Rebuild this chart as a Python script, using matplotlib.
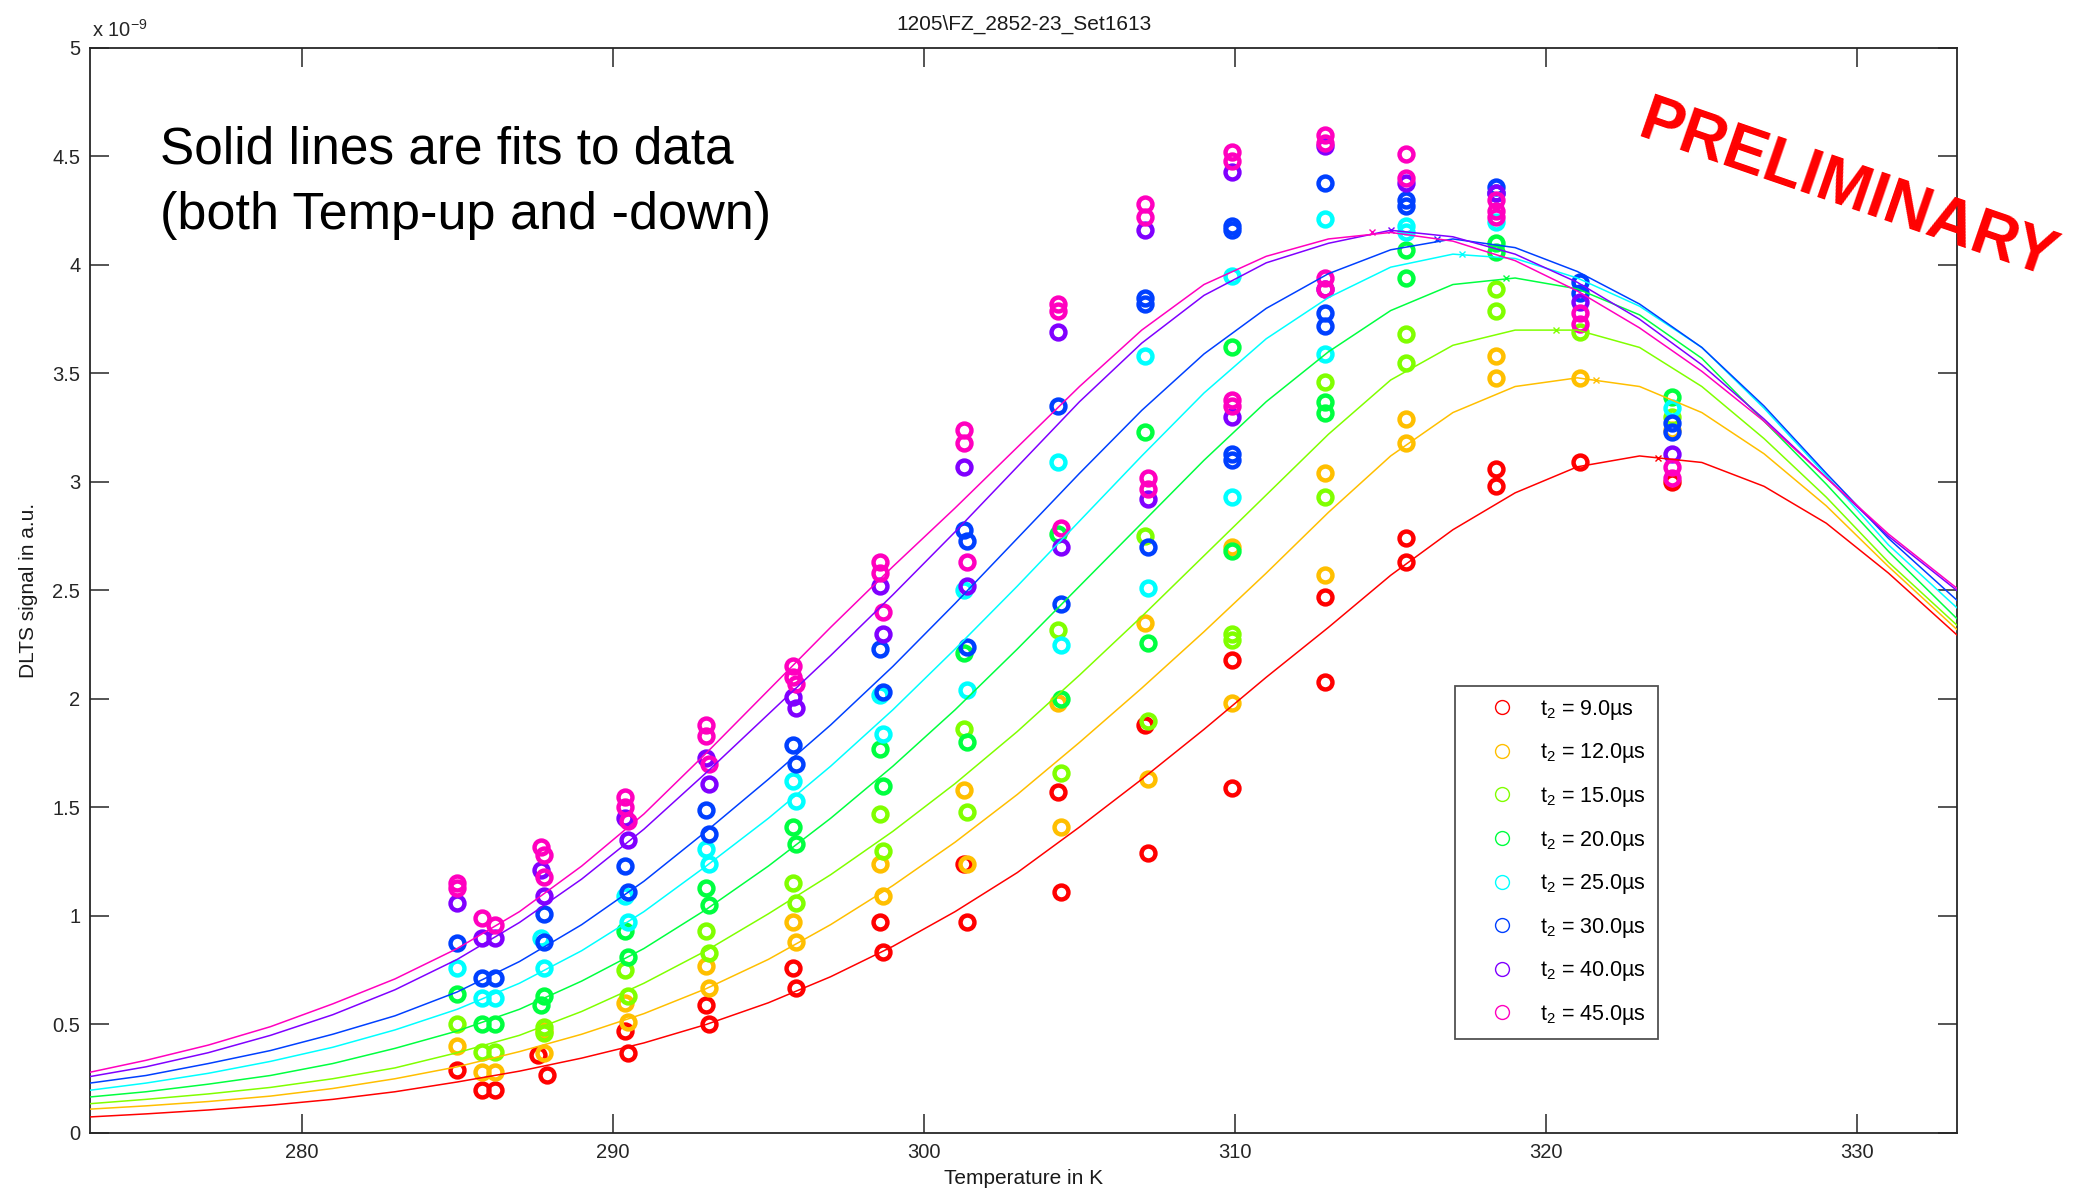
import colorsys
import numpy as np
import matplotlib
matplotlib.use('Agg')
import matplotlib.pyplot as plt
from matplotlib.lines import Line2D
from matplotlib.ticker import FuncFormatter

plt.rcParams['font.family'] = ['Liberation Sans', 'DejaVu Sans']
plt.rcParams['mathtext.fontset'] = 'custom'
plt.rcParams['mathtext.rm'] = 'Liberation Sans'

# rate windows (t2 in microseconds)
t2_us = [9.0, 12.0, 15.0, 20.0, 25.0, 30.0, 40.0, 45.0]

# measured DLTS signal in units of 1e-9, (temperature K, signal) per rate window
meas_9 = [(285.0, 0.29), (285.8, 0.20), (286.2, 0.20), (287.6, 0.36), (287.9, 0.265),
          (290.4, 0.47), (290.5, 0.37), (293.0, 0.59), (293.1, 0.50), (295.8, 0.76),
          (295.9, 0.67), (298.6, 0.97), (298.7, 0.835), (301.3, 1.24), (301.4, 0.97),
          (304.3, 1.57), (304.4, 1.11), (307.1, 1.88), (307.2, 1.29), (309.9, 2.18),
          (309.9, 1.59), (312.9, 2.47), (312.9, 2.08), (315.5, 2.74), (315.5, 2.63),
          (318.4, 3.06), (318.4, 2.98), (321.1, 3.09), (324.05, 3.00)]
meas_12 = [(285.0, 0.40), (285.8, 0.28), (286.2, 0.28), (287.8, 0.47), (287.8, 0.37),
           (290.4, 0.60), (290.5, 0.51), (293.0, 0.77), (293.1, 0.67), (295.8, 0.97),
           (295.9, 0.88), (298.6, 1.24), (298.7, 1.09), (301.3, 1.58), (301.4, 1.24),
           (304.3, 1.98), (304.4, 1.41), (307.1, 2.35), (307.2, 1.63), (309.9, 2.70),
           (309.9, 1.98), (312.9, 3.04), (312.9, 2.57), (315.5, 3.29), (315.5, 3.18),
           (318.4, 3.58), (318.4, 3.48), (321.1, 3.48), (324.05, 3.24)]
meas_15 = [(285.0, 0.50), (285.8, 0.375), (286.2, 0.375), (287.8, 0.49), (287.8, 0.46),
           (290.4, 0.75), (290.5, 0.63), (293.0, 0.93), (293.1, 0.83), (295.8, 1.15),
           (295.9, 1.06), (298.6, 1.47), (298.7, 1.30), (301.3, 1.86), (301.4, 1.48),
           (304.3, 2.32), (304.4, 1.66), (307.1, 2.75), (307.2, 1.90), (309.9, 2.30),
           (309.9, 2.27), (312.9, 3.46), (312.9, 2.93), (315.5, 3.68), (315.5, 3.55),
           (318.4, 3.89), (318.4, 3.79), (321.1, 3.69), (324.05, 3.30)]
meas_20 = [(285.0, 0.64), (285.8, 0.50), (286.2, 0.50), (287.8, 0.63), (287.7, 0.59),
           (290.4, 0.93), (290.5, 0.81), (293.0, 1.13), (293.1, 1.05), (295.8, 1.41),
           (295.9, 1.33), (298.6, 1.77), (298.7, 1.60), (301.3, 2.21), (301.4, 1.80),
           (304.3, 2.76), (304.4, 2.00), (307.1, 3.23), (307.2, 2.26), (309.9, 3.62),
           (309.9, 2.68), (312.9, 3.37), (312.9, 3.32), (315.5, 4.07), (315.5, 3.94),
           (318.4, 4.10), (318.4, 4.06), (324.05, 3.39)]
meas_25 = [(285.0, 0.76), (285.8, 0.62), (286.2, 0.62), (287.7, 0.90), (287.8, 0.76),
           (290.4, 1.09), (290.5, 0.97), (293.0, 1.31), (293.1, 1.24), (295.8, 1.62),
           (295.9, 1.53), (298.6, 2.02), (298.7, 1.84), (301.3, 2.50), (301.4, 2.04),
           (304.3, 3.09), (304.4, 2.25), (307.1, 3.58), (307.2, 2.51), (309.9, 3.95),
           (309.9, 2.93), (312.9, 4.21), (312.9, 3.59), (315.5, 4.18), (315.5, 4.15),
           (318.4, 4.20), (324.05, 3.34)]
meas_30 = [(285.0, 0.875), (285.8, 0.715), (286.2, 0.715), (287.8, 1.01), (287.8, 0.88),
           (290.4, 1.23), (290.5, 1.11), (293.0, 1.49), (293.1, 1.38), (295.8, 1.79),
           (295.9, 1.70), (298.6, 2.23), (298.7, 2.03), (301.3, 2.78), (301.4, 2.73),
           (301.4, 2.24), (304.3, 3.35), (304.4, 2.44), (307.1, 3.85), (307.1, 3.82),
           (307.2, 2.70), (309.9, 4.18), (309.9, 4.16), (309.9, 3.13), (309.9, 3.10),
           (312.9, 4.38), (312.9, 3.78), (312.9, 3.72), (315.5, 4.30), (315.5, 4.27),
           (318.4, 4.36), (318.4, 4.33), (321.1, 3.92), (321.1, 3.87), (324.05, 3.27),
           (324.05, 3.23)]
meas_40 = [(285.0, 1.06), (285.8, 0.90), (286.2, 0.90), (287.7, 1.21), (287.8, 1.09),
           (290.4, 1.45), (290.5, 1.35), (293.0, 1.73), (293.1, 1.61), (295.8, 2.01),
           (295.9, 1.96), (298.6, 2.52), (298.7, 2.30), (301.3, 3.07), (301.4, 2.52),
           (304.3, 3.69), (304.4, 2.70), (307.1, 4.16), (307.2, 2.92), (309.9, 4.43),
           (309.9, 3.30), (312.9, 4.55), (312.9, 3.89), (315.5, 4.38), (318.4, 4.33),
           (321.1, 3.83), (324.05, 3.13)]
meas_45 = [(285.0, 1.15), (285.0, 1.13), (285.8, 0.99), (286.2, 0.96), (287.7, 1.32),
           (287.8, 1.28), (287.8, 1.18), (290.4, 1.55), (290.4, 1.50), (290.5, 1.44),
           (293.0, 1.88), (293.0, 1.83), (293.1, 1.70), (295.8, 2.15), (295.8, 2.10),
           (295.9, 2.07), (298.6, 2.63), (298.6, 2.58), (298.7, 2.40), (301.3, 3.24),
           (301.3, 3.18), (301.4, 2.63), (304.3, 3.82), (304.3, 3.79), (304.4, 2.79),
           (307.1, 4.28), (307.1, 4.22), (307.2, 3.02), (307.2, 2.97), (309.9, 4.52),
           (309.9, 4.48), (309.9, 3.38), (309.9, 3.35), (312.9, 4.60), (312.9, 4.56),
           (312.9, 3.94), (312.9, 3.89), (315.5, 4.51), (315.5, 4.40), (318.4, 4.30),
           (318.4, 4.25), (318.4, 4.22), (321.1, 3.78), (321.1, 3.73), (324.05, 3.07),
           (324.05, 3.02)]

# fitted DLTS curves sampled along temperature
fit_temp = [273.2, 275, 277, 279, 281, 283, 285, 287, 289, 291, 293, 295, 297, 299, 301,
            303, 305, 307, 309, 311, 313, 315, 317, 319, 321, 323, 325, 327, 329, 331, 333.2]
fit_9 = [0.074, 0.088, 0.106, 0.128, 0.155, 0.19, 0.235, 0.285, 0.345, 0.415, 0.50,
         0.60, 0.72, 0.86, 1.02, 1.20, 1.41, 1.63, 1.86, 2.10, 2.33, 2.57, 2.78, 2.95,
         3.07, 3.12, 3.09, 2.98, 2.81, 2.58, 2.295]
fit_12 = [0.11, 0.125, 0.145, 0.17, 0.205, 0.25, 0.305, 0.375, 0.455, 0.55, 0.665,
          0.80, 0.96, 1.14, 1.34, 1.56, 1.80, 2.05, 2.31, 2.58, 2.86, 3.12, 3.32, 3.44,
          3.48, 3.44, 3.32, 3.13, 2.89, 2.61, 2.32]
fit_15 = [0.135, 0.155, 0.18, 0.21, 0.25, 0.30, 0.37, 0.45, 0.56, 0.69, 0.84, 1.01,
          1.19, 1.39, 1.61, 1.85, 2.11, 2.38, 2.66, 2.94, 3.22, 3.47, 3.63, 3.70, 3.70,
          3.62, 3.44, 3.20, 2.93, 2.63, 2.34]
fit_20 = [0.166, 0.19, 0.225, 0.265, 0.32, 0.39, 0.47, 0.57, 0.70, 0.85, 1.03, 1.23,
          1.45, 1.69, 1.95, 2.23, 2.52, 2.81, 3.10, 3.37, 3.60, 3.79, 3.91, 3.94, 3.89,
          3.77, 3.57, 3.28, 2.99, 2.68, 2.37]
fit_25 = [0.197, 0.23, 0.275, 0.33, 0.395, 0.475, 0.57, 0.69, 0.84, 1.02, 1.23, 1.45,
          1.69, 1.95, 2.23, 2.52, 2.82, 3.12, 3.41, 3.66, 3.85, 3.99, 4.05, 4.03, 3.94,
          3.81, 3.62, 3.34, 3.03, 2.71, 2.42]
fit_30 = [0.23, 0.265, 0.32, 0.38, 0.455, 0.54, 0.65, 0.79, 0.96, 1.16, 1.39, 1.63,
          1.88, 2.15, 2.44, 2.74, 3.04, 3.33, 3.59, 3.80, 3.96, 4.07, 4.12, 4.08, 3.97,
          3.82, 3.62, 3.35, 3.04, 2.74, 2.455]
fit_40 = [0.26, 0.305, 0.37, 0.45, 0.545, 0.66, 0.80, 0.97, 1.17, 1.40, 1.66, 1.93,
          2.20, 2.48, 2.77, 3.07, 3.37, 3.64, 3.86, 4.01, 4.10, 4.16, 4.13, 4.05, 3.92,
          3.75, 3.54, 3.29, 3.02, 2.75, 2.50]
fit_45 = [0.28, 0.335, 0.405, 0.49, 0.595, 0.71, 0.85, 1.02, 1.23, 1.47, 1.75, 2.04,
          2.33, 2.61, 2.88, 3.16, 3.44, 3.70, 3.91, 4.04, 4.12, 4.15, 4.11, 4.02, 3.88,
          3.71, 3.51, 3.28, 3.02, 2.76, 2.51]

# fitted peak positions (marked with x on each curve)
peak_temp = [323.6, 321.6, 320.3, 318.7, 317.3, 316.5, 315.0, 314.4]
peak_signal = [3.11, 3.47, 3.70, 3.94, 4.05, 4.12, 4.16, 4.15]

measured = [meas_9, meas_12, meas_15, meas_20, meas_25, meas_30, meas_40, meas_45]
fits = [fit_9, fit_12, fit_15, fit_20, fit_25, fit_30, fit_40, fit_45]
colors = [colorsys.hsv_to_rgb(i / 8, 1, 1) for i in range(8)]

fig = plt.figure(figsize=(20.89, 11.94), dpi=100)
ax = fig.add_axes([0.0431, 0.0511, 0.8937, 0.9087])

for pts, c in zip(measured, colors):
    T, S = zip(*pts)
    ax.plot(T, S, ls='none', marker='o', mfc='none', mec=c, ms=10, mew=3.2, zorder=2)

for vals, c, pt, ps in zip(fits, colors, peak_temp, peak_signal):
    ax.plot(fit_temp, vals, '-', color=c, lw=1.1, zorder=3)
    ax.plot([pt], [ps], ls='none', marker='x', color=c, ms=5, mew=1, zorder=3)

ax.set_xlim(273.2, 333.2)
ax.set_ylim(0, 5)
ax.set_xticks([280, 290, 300, 310, 320, 330])
ax.set_yticks(np.arange(0, 5.01, 0.5))
ax.yaxis.set_major_formatter(FuncFormatter(lambda v, p: f'{v:g}'))
ax.tick_params(direction='in', length=13.7, width=1.1, top=True, right=True,
               labelsize=14.5, colors='0.15', pad=7)
for sp in ax.spines.values():
    sp.set_linewidth(1.3)
    sp.set_color('0.15')

ax.set_title('1205\\FZ_2852-23_Set1613', fontsize=15, pad=13, color='0.1')
ax.set_xlabel('Temperature in K', fontsize=15, labelpad=5, color='0.1')
ax.set_ylabel('DLTS signal in a.u.', fontsize=15, labelpad=10, color='0.1')

# axis multiplier
fig.text(92 / 2089, 1 - 37 / 1194, r'x 10$^{\mathregular{-9}}$', fontsize=14.5,
         color='0.15', ha='left', va='baseline')

fig.text(160 / 2089, 1 - 164 / 1194, 'Solid lines are fits to data',
         fontsize=37, ha='left', va='baseline')
fig.text(160 / 2089, 1 - 229 / 1194, '(both Temp-up and -down)',
         fontsize=37.5, ha='left', va='baseline')

fig.text(1636 / 2089, 1 - 136 / 1194, 'PRELIMINARY', fontsize=46, fontweight='bold',
         color='red', rotation=-19, rotation_mode='anchor', ha='left', va='baseline')

handles = [Line2D([], [], ls='none', marker='o', mfc='none', mec=c, ms=10, mew=1.0)
           for c in colors]
labels = [r'$\mathregular{t_2}$ = ' + f'{t:.1f}µs' for t in t2_us]
leg = ax.legend(handles, labels, loc='upper left', bbox_to_anchor=(0.7311, 0.412),
                borderaxespad=0, fontsize=15.5, frameon=True, fancybox=False,
                edgecolor='0.15', handlelength=3.27, handletextpad=0.13,
                labelspacing=0.91, borderpad=0.55)
leg.get_frame().set_linewidth(1.3)

fig.savefig('out.png', dpi=100, facecolor='white')
